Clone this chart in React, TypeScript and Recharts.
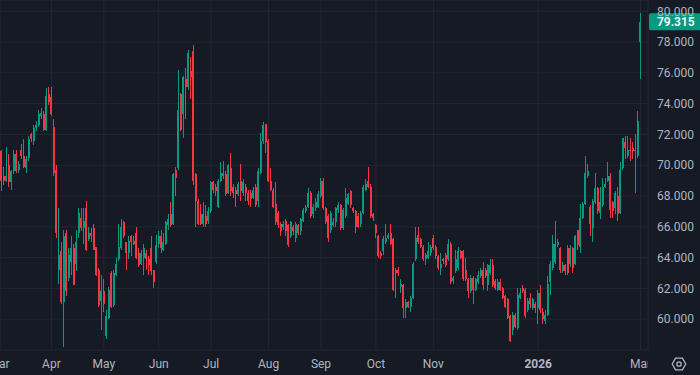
import {
  ComposedChart,
  Bar,
  XAxis,
  YAxis,
  CartesianGrid,
  ReferenceLine,
} from "recharts";

const BG = "#161a25";
const GRID = "#232733";
const TEXT = "#b2b5be";
const UP = "#089981";
const DOWN = "#f23645";
const FONT = "Roboto, 'Noto Sans', sans-serif";

// first session of each labelled month (candle index) and its label
const MONTH_TICKS = [0, 21, 42, 64, 85, 108, 129, 151, 174, 216, 257];
const MONTH_LABELS = ["Mar", "Apr", "May", "Jun", "Jul", "Aug", "Sep", "Oct", "Nov", "2026", "Mar"];
const PRICE_TICKS = [60, 62, 64, 66, 68, 70, 72, 74, 76, 78, 80];
const LAST_PRICE = 79.315;

// daily candles, Mar 2025 -> Mar 2026
const OPEN = [
  71.2, 70.9, 69.3, 69.0, 70.0, 68.9, 69.6, 70.7, 69.7, 71.0, 70.6, 69.8, 70.5, 72.0, 71.6, 72.4, 72.6, 73.2, 73.3, 72.3, 74.6,
  74.4, 72.5, 69.7, 63.2, 64.4, 61.1, 65.6, 62.7, 63.7, 64.6, 63.6, 65.6, 66.6, 65.9, 67.2, 65.2, 65.6, 65.9, 64.7, 63.2, 61.2,
  61.8, 58.9, 60.1, 63.0, 60.9, 62.9, 63.9, 64.6, 66.3, 65.0, 64.3, 65.4, 65.1, 65.6, 64.3, 63.6, 64.0, 64.3, 63.9, 64.6, 63.2, 63.7,
  64.9, 65.4, 64.5, 64.9, 66.1, 66.8, 66.2, 69.7, 69.8, 74.6, 73.3, 75.6, 75.1, 76.1, 77.4, 69.4, 67.7, 66.8, 66.2, 66.7, 66.4,
  67.0, 68.9, 68.6, 67.3, 69.0, 69.3, 69.4, 68.2, 69.8, 68.6, 68.4, 68.1, 69.0, 68.2, 68.6, 68.2, 68.2, 67.9, 68.6, 67.7, 69.5, 71.6, 72.7,
  71.6, 69.0, 68.4, 67.5, 66.9, 66.2, 66.0, 66.4, 66.1, 65.4, 66.0, 65.3, 66.1, 65.7, 66.4, 67.0, 67.3, 68.2, 66.8, 67.2, 67.3,
  68.0, 69.0, 67.2, 66.7, 65.8, 66.1, 66.3, 67.1, 67.4, 65.9, 66.7, 67.5, 68.3, 67.2, 67.0, 66.7, 66.2, 66.9, 68.4, 69.0, 68.6, 66.8,
  66.1, 65.4, 64.3, 64.4, 65.0, 65.3, 65.6, 65.2, 63.2, 63.2, 62.1, 62.2, 60.7, 61.1, 60.8, 61.4, 63.9, 65.5, 65.2, 64.7, 63.9, 64.0, 64.3,
  65.3, 64.7, 64.1, 63.3, 63.9, 64.2, 63.9, 64.9, 62.5, 63.1, 63.3, 64.4, 64.4, 63.2, 62.6, 61.8, 62.7, 61.9, 62.4, 62.8, 63.2,
  63.2, 62.2, 63.0, 63.5, 62.5, 61.9, 62.4, 62.0, 61.5, 61.3, 60.2, 59.3, 60.3, 59.4, 61.4, 62.0, 61.9, 60.6, 61.4, 60.7, 61.0,
  60.7, 61.7, 60.5, 59.9, 60.3, 62.4, 63.3, 63.7, 64.8, 64.6, 63.1, 63.5, 64.6, 63.6, 64.6, 63.6, 65.8, 64.7, 66.6, 67.5, 69.3,
  67.3, 65.9, 67.6, 68.5, 66.9, 67.4, 68.6, 69.0, 69.3, 67.6, 67.2, 68.0, 66.9, 69.8, 71.5, 70.6, 71.0, 71.1, 71.0, 70.6,
  78.0,
];
const HIGH = [
  71.3, 71.0, 69.9, 71.2, 70.7, 69.7, 71.0, 71.0, 70.3, 71.4, 71.7, 70.6, 71.9, 72.1, 72.6, 72.9, 73.6, 73.7, 73.5, 75.0, 75.1,
  75.1, 73.0, 70.0, 67.2, 65.0, 65.8, 65.8, 64.6, 65.4, 64.9, 65.8, 67.2, 67.2, 67.2, 67.7, 66.0, 65.9, 66.2, 64.7, 63.3, 62.9,
  62.6, 60.6, 62.1, 63.1, 63.2, 64.0, 66.2, 66.5, 66.4, 65.0, 65.4, 65.5, 65.4, 66.0, 64.6, 64.5, 64.9, 64.5, 64.1, 65.4, 63.2, 65.5,
  65.7, 65.8, 65.6, 66.4, 66.8, 67.6, 69.5, 69.9, 76.2, 74.7, 75.8, 76.3, 77.5, 77.0, 77.8, 69.5, 67.8, 67.5, 67.6, 67.4, 67.3,
  69.0, 69.0, 68.8, 69.1, 70.2, 70.3, 69.6, 70.1, 70.8, 68.8, 68.6, 68.9, 70.1, 69.1, 68.8, 68.4, 68.4, 68.6, 68.8, 69.8, 72.1, 72.8, 72.7,
  71.7, 69.8, 68.5, 68.9, 67.0, 66.3, 66.4, 66.5, 66.2, 66.4, 66.1, 66.3, 66.2, 66.6, 67.2, 67.4, 68.5, 68.3, 67.5, 67.9, 68.3,
  69.2, 69.2, 67.3, 66.8, 67.0, 66.6, 67.3, 67.6, 67.5, 67.2, 68.5, 68.2, 68.4, 67.3, 67.1, 66.9, 67.0, 68.7, 69.1, 69.9, 68.8, 66.9,
  66.2, 65.5, 64.4, 65.4, 66.2, 65.6, 66.2, 65.3, 63.3, 63.4, 62.6, 62.3, 61.3, 61.2, 61.5, 63.7, 66.0, 66.0, 65.3, 64.8, 64.3, 65.0, 64.8,
  65.5, 64.8, 64.2, 64.3, 64.0, 64.3, 65.2, 65.0, 62.8, 64.5, 64.7, 64.5, 64.5, 64.0, 62.7, 62.9, 62.8, 62.7, 63.1, 63.3, 63.7,
  63.3, 63.6, 63.9, 63.9, 62.6, 62.6, 62.6, 62.1, 61.6, 61.4, 60.3, 60.5, 60.4, 62.0, 62.0, 62.2, 62.0, 61.4, 61.7, 61.4, 61.1,
  61.9, 62.2, 60.7, 60.6, 62.8, 63.8, 65.5, 66.4, 65.2, 64.7, 63.7, 63.6, 64.8, 64.8, 64.7, 65.5, 65.8, 67.5, 67.6, 70.6, 70.1,
  67.4, 67.8, 69.5, 68.6, 68.6, 69.2, 69.2, 70.2, 69.5, 67.7, 68.3, 68.6, 70.2, 71.8, 71.9, 71.9, 71.8, 71.5, 72.0, 73.5,
  79.9,
];
const LOW = [
  69.7, 68.3, 68.7, 68.9, 68.6, 68.4, 69.4, 69.5, 69.5, 70.4, 69.8, 69.5, 70.3, 71.5, 71.3, 72.2, 72.5, 73.0, 72.2, 72.2, 73.9,
  73.2, 69.3, 65.3, 62.3, 61.0, 58.2, 61.5, 62.5, 62.9, 62.2, 63.1, 65.3, 65.7, 64.9, 64.4, 65.1, 65.0, 64.5, 62.8, 60.8, 59.3,
  60.5, 58.7, 60.0, 60.7, 60.8, 62.8, 63.8, 64.5, 65.3, 63.2, 63.9, 64.1, 64.8, 63.9, 63.4, 63.5, 62.9, 63.2, 62.9, 62.9, 62.0, 63.6,
  64.6, 64.3, 64.4, 64.8, 65.8, 66.0, 66.1, 68.0, 69.7, 72.2, 71.8, 73.0, 74.9, 74.3, 68.7, 66.0, 66.1, 66.1, 66.0, 66.0, 66.2,
  66.9, 68.2, 68.0, 67.2, 68.9, 69.1, 68.0, 68.1, 68.0, 67.9, 67.3, 68.0, 67.7, 68.0, 67.7, 67.4, 67.3, 67.8, 67.3, 67.3, 69.4, 71.4, 70.8,
  68.9, 68.3, 67.2, 66.1, 65.9, 65.4, 65.8, 65.4, 64.7, 65.3, 65.5, 65.0, 65.5, 65.5, 66.3, 66.9, 67.2, 66.6, 66.6, 67.0, 67.2,
  67.9, 67.1, 66.2, 65.0, 65.6, 66.0, 66.0, 66.9, 65.8, 65.8, 66.6, 67.4, 67.2, 66.9, 65.6, 65.9, 66.0, 66.8, 68.3, 68.5, 66.6, 66.4,
  65.3, 64.0, 63.9, 64.2, 64.9, 65.2, 64.8, 61.8, 61.4, 62.8, 61.7, 60.1, 60.1, 60.7, 60.5, 61.3, 63.8, 64.9, 64.6, 63.8, 63.5, 63.9, 64.1,
  64.5, 63.9, 63.2, 62.9, 63.6, 63.4, 63.8, 62.3, 62.3, 63.0, 63.2, 63.9, 62.5, 62.5, 61.4, 61.7, 61.0, 61.8, 62.3, 62.7, 61.9,
  62.7, 61.8, 62.9, 62.1, 61.9, 61.8, 61.8, 61.3, 60.7, 60.0, 58.5, 59.0, 59.4, 59.3, 61.3, 61.7, 60.1, 60.5, 60.7, 60.6, 60.4,
  59.7, 60.4, 59.7, 59.7, 60.2, 61.6, 63.2, 63.6, 64.7, 63.0, 63.0, 62.9, 62.9, 63.4, 63.0, 63.5, 64.5, 64.3, 66.5, 67.4, 69.2,
  65.4, 65.0, 67.5, 66.8, 66.5, 67.3, 68.5, 68.9, 66.6, 66.6, 66.8, 66.4, 66.8, 69.7, 70.4, 70.5, 70.3, 70.4, 68.2, 70.5,
  75.6,
];
const CLOSE = [
  70.9, 69.0, 69.0, 69.3, 68.9, 69.6, 70.7, 69.6, 70.1, 70.6, 69.9, 70.4, 71.7, 71.7, 72.4, 72.6, 73.3, 73.4, 72.3, 74.5, 74.1,
  73.3, 69.5, 65.6, 64.2, 61.1, 65.4, 61.8, 64.2, 64.6, 62.2, 65.0, 66.9, 65.9, 66.4, 64.5, 65.6, 65.4, 64.5, 62.9, 60.9, 61.8,
  61.0, 60.2, 61.9, 60.8, 63.0, 63.6, 64.7, 66.0, 65.4, 64.3, 65.1, 65.0, 64.9, 64.0, 63.5, 64.3, 64.6, 63.9, 63.5, 63.1, 62.4, 64.8,
  65.4, 64.6, 65.0, 66.3, 66.5, 66.1, 69.4, 69.2, 73.6, 72.3, 75.7, 75.1, 77.3, 75.7, 69.0, 67.7, 66.2, 66.2, 66.8, 66.2, 67.0,
  68.9, 68.4, 68.3, 69.0, 69.5, 69.5, 68.1, 70.0, 68.3, 68.2, 68.1, 68.8, 68.3, 68.9, 68.2, 67.7, 67.8, 68.4, 67.4, 69.6, 71.6, 72.6, 71.5,
  69.0, 68.4, 67.3, 66.3, 66.1, 65.7, 66.2, 65.7, 64.8, 66.3, 65.7, 66.2, 65.6, 66.5, 67.1, 67.3, 68.2, 66.7, 67.3, 67.6, 68.1,
  69.0, 67.2, 66.3, 65.3, 66.9, 66.3, 67.2, 67.4, 65.9, 67.1, 67.9, 68.1, 67.4, 67.0, 66.0, 66.0, 66.9, 68.6, 68.8, 68.6, 66.7, 66.6,
  65.6, 64.1, 64.1, 65.2, 65.3, 65.5, 64.9, 61.9, 63.0, 63.0, 62.3, 60.7, 61.1, 60.8, 61.4, 63.6, 65.3, 65.0, 64.7, 63.9, 64.2, 64.4, 64.7,
  64.6, 64.1, 63.3, 63.6, 63.8, 63.5, 64.9, 62.4, 62.7, 63.9, 64.4, 64.0, 62.6, 62.6, 61.8, 62.7, 61.9, 62.6, 62.9, 63.2, 62.2,
  62.8, 63.5, 63.5, 62.2, 62.0, 62.4, 61.9, 61.4, 60.8, 60.1, 58.6, 60.3, 59.5, 61.6, 61.7, 61.8, 60.2, 61.2, 61.0, 61.3, 60.7,
  61.7, 60.6, 60.0, 60.3, 62.3, 63.6, 64.9, 64.9, 65.0, 63.2, 63.5, 63.1, 63.0, 64.6, 63.3, 65.4, 64.8, 66.6, 67.5, 69.5, 69.6,
  66.2, 67.7, 68.5, 67.0, 67.6, 68.6, 68.8, 69.3, 67.1, 67.0, 68.2, 66.8, 69.7, 71.8, 71.1, 71.0, 70.9, 70.9, 70.9, 72.9,
  79.315,
];

const DATA = CLOSE.map((close, i) => ({
  i,
  open: OPEN[i],
  high: HIGH[i],
  low: LOW[i],
  close,
  range: [LOW[i], HIGH[i]],
}));

function Candle(props: any) {
  const { x, y, width, height, payload } = props;
  if (!payload) return null;
  const { open, close, high, low } = payload;
  const cx = x + width / 2;
  const top = Math.min(y, y + height);
  const pxPerUnit = high > low ? Math.abs(height) / (high - low) : 0;
  const toY = (v: number) => top + (high - v) * pxPerUnit;
  const color = close >= open ? UP : DOWN;
  const bodyTop = toY(Math.max(open, close));
  const bodyBot = toY(Math.min(open, close));
  return (
    <g shapeRendering="crispEdges">
      <rect x={cx - 0.5} y={top} width={1} height={Math.abs(height)} fill={color} />
      <rect x={cx - 1} y={bodyTop} width={2} height={Math.max(1, bodyBot - bodyTop)} fill={color} />
    </g>
  );
}

function MonthTick(props: any) {
  const { x, y, payload, index } = props;
  const k = MONTH_TICKS.indexOf(payload.value);
  const label = k >= 0 ? MONTH_LABELS[k] : "";
  const id = `month-clip-${index}`;
  return (
    <g>
      <defs>
        <clipPath id={id}>
          <rect x={0} y={y - 12} width={648} height={40} />
        </clipPath>
      </defs>
      <text
        x={x}
        y={y}
        dy="0.71em"
        textAnchor="middle"
        fill={TEXT}
        fontSize={12}
        fontFamily={FONT}
        fontWeight={label === "2026" ? 700 : 400}
        clipPath={`url(#${id})`}
      >
        {label}
      </text>
    </g>
  );
}

function PriceTag(props: any) {
  const vb = props.viewBox;
  if (!vb) return null;
  const left = vb.x + vb.width + 1;
  return (
    <g>
      <rect x={left} y={vb.y - 8.5} width={52} height={17} rx={2} fill={UP} />
      <text
        x={left + 8}
        y={vb.y}
        dy="0.36em"
        fill="#ffffff"
        fontSize={12}
        fontWeight={600}
        fontFamily={FONT}
      >
        {LAST_PRICE.toFixed(3)}
      </text>
    </g>
  );
}

export default function App() {
  return (
    <div
      style={{
        position: "absolute",
        left: 0,
        top: 0,
        width: 700,
        height: 375,
        background: BG,
        overflow: "hidden",
      }}
    >
      <ComposedChart
        width={700}
        height={375}
        data={DATA}
        margin={{ top: 0, right: 0, bottom: 0, left: 0 }}
      >
        <CartesianGrid stroke={GRID} strokeWidth={1} />
        <XAxis
          dataKey="i"
          type="number"
          domain={[0.4, 260]}
          allowDataOverflow
          ticks={MONTH_TICKS}
          interval={0}
          height={25}
          tickLine={false}
          axisLine={false}
          tickMargin={3}
          tick={<MonthTick />}
        />
        <YAxis
          orientation="right"
          type="number"
          domain={[58.0, 80.73]}
          allowDataOverflow
          ticks={PRICE_TICKS}
          interval={0}
          width={52}
          tickLine={false}
          axisLine={false}
          tickMargin={3}
          tick={{ fill: TEXT, fontSize: 12, fontFamily: FONT }}
          tickFormatter={(v: number) => v.toFixed(3)}
        />
        <Bar
          dataKey="range"
          barSize={2}
          shape={<Candle />}
          isAnimationActive={false}
        />
        <ReferenceLine
          y={LAST_PRICE}
          stroke="none"
          ifOverflow="visible"
          label={<PriceTag />}
        />
      </ComposedChart>
      <svg
        width={16}
        height={16}
        style={{ position: "absolute", left: 671, top: 356 }}
      >
        <polygon
          points="14.8,8 11.4,13.9 4.6,13.9 1.2,8 4.6,2.1 11.4,2.1"
          fill="none"
          stroke={TEXT}
          strokeWidth={1.3}
          strokeLinejoin="round"
        />
        <circle cx={8} cy={8} r={2.2} fill="none" stroke={TEXT} strokeWidth={1.3} />
      </svg>
    </div>
  );
}
